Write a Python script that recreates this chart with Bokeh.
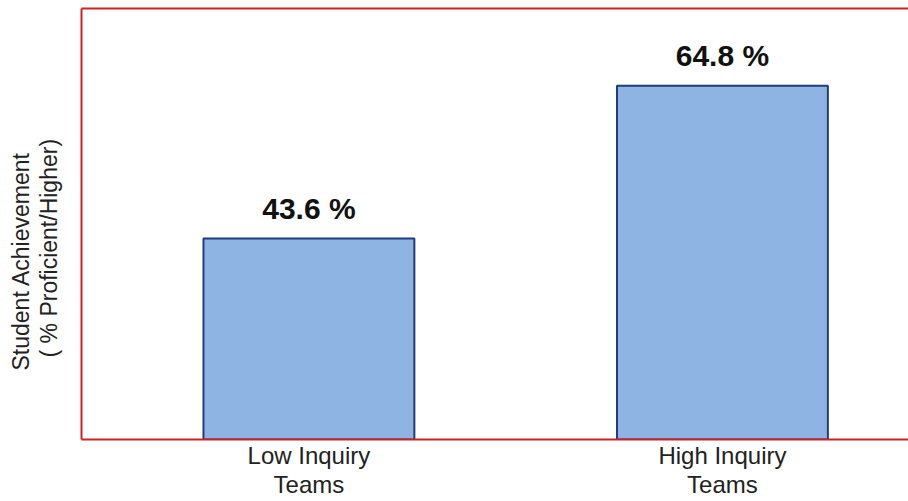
from bokeh.plotting import figure
from bokeh.models import Range1d, LinearAxis, FixedTicker, Title, ColumnDataSource
from bokeh.core.properties import value
from bokeh.embed import file_html
from bokeh.resources import INLINE

categories = ["Low Inquiry\nTeams", "High Inquiry\nTeams"]
percent = [43.6, 64.8]
bar_labels = ["43.6 %", "64.8 %"]
y_title_lines = ["Student Achievement", "( % Proficient/Higher)"]

FONT = "Liberation Sans"
RED = "#d0202a"

x = list(range(len(categories)))
src = ColumnDataSource(dict(x=x, top=percent, label=bar_labels))

p = figure(width=908, height=501, output_backend="svg", toolbar_location=None,
           x_range=Range1d(-0.55, 1.45), y_range=Range1d(15.75, 75.5),
           min_border_left=81, min_border_right=0, min_border_top=8,
           min_border_bottom=62)
p.outline_line_color = None
p.grid.visible = False
p.background_fill_color = "white"
p.border_fill_color = "white"

p.vbar(x="x", top="top", bottom=0, width=0.51, source=src,
       fill_color="#8eb4e3", line_color="#1f3c7c", line_width=2)
p.text(x="x", y="top", text="label", source=src, text_align="center",
       text_baseline="alphabetic", y_offset=-30, text_font=value(FONT),
       text_font_style="bold", text_font_size="30px", text_color="#111111")

def style_axis(ax, labels=False):
    ax.axis_line_color = RED
    ax.axis_line_width = 2
    ax.major_tick_line_color = None
    ax.minor_tick_line_color = None
    ax.major_tick_out = 0
    ax.major_tick_in = 0
    if not labels:
        ax.major_label_text_font_size = "0px"
        ax.major_label_standoff = 0

xa = p.xaxis[0]
xa.ticker = FixedTicker(ticks=x)
xa.major_label_overrides = {i: c for i, c in zip(x, categories)}
style_axis(xa, labels=True)
xa.major_label_text_font = FONT
xa.major_label_text_font_size = "24px"
xa.major_label_text_line_height = 1.1
xa.major_label_text_color = "#222222"
xa.major_label_standoff = 2

ya = p.yaxis[0]
ya.ticker = FixedTicker(ticks=[])
style_axis(ya)

top = LinearAxis(ticker=FixedTicker(ticks=[]))
style_axis(top)
p.add_layout(top, "above")

# blank spacer between the frame and the y-axis title lines
p.add_layout(Title(text=" ", text_font_size="1px", standoff=17), "left")

title_offsets = [69, 82]
for line, off in reversed(list(zip(y_title_lines, title_offsets))):
    p.add_layout(Title(text=line, align="left", offset=off, text_font=FONT,
                       text_font_size="23px", text_font_style="normal",
                       text_color="#222222", standoff=0), "left")

open("out.html", "w").write(file_html(p, INLINE))
